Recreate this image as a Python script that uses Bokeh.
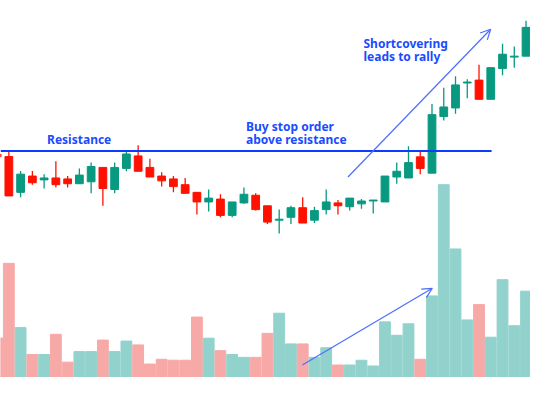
from bokeh.plotting import figure
from bokeh.models import Range1d, ColumnDataSource, Arrow, OpenHead
from bokeh.core.properties import value
from bokeh.embed import file_html
from bokeh.resources import INLINE

# ---- data ----
opens  = [57.0, 56.73, 53.0, 54.7, 54.3, 54.5, 54.4, 53.9, 54.1, 55.6, 53.3, 55.5, 56.8, 55.6, 54.7, 54.4,
          53.8, 53.0, 52.0, 52.3, 50.6, 51.9, 52.7, 51.6, 50.1, 50.4, 51.4, 50.1, 51.2, 51.9, 51.5, 51.8,
          52.1, 52.0, 54.6, 54.5, 56.7, 55.0, 60.9, 61.8, 64.4, 64.7, 62.7, 65.9, 67.1, 67.2]
highs  = [57.0, 57.27, 55.23, 55.23, 54.9, 56.23, 54.7, 55.5, 56.1, 55.6, 56.1, 57.3, 57.9, 56.5, 55.1, 54.7,
          54.5, 53.0, 53.3, 52.8, 52.0, 53.5, 52.9, 51.6, 51.2, 51.6, 52.5, 51.5, 53.3, 52.2, 52.4, 52.3,
          52.2, 54.7, 56.1, 57.8, 57.4, 62.2, 63.9, 65.1, 64.8, 66.3, 66.0, 68.5, 68.2, 70.9]
lows   = [56.7, 52.63, 52.5, 53.8, 53.4, 53.5, 53.5, 53.9, 52.9, 51.6, 52.9, 55.2, 55.2, 54.6, 53.6, 53.0,
          52.9, 50.7, 51.0, 50.4, 50.4, 51.8, 51.1, 49.7, 48.7, 49.7, 49.8, 49.8, 50.7, 50.7, 51.1, 51.3,
          50.8, 52.0, 53.9, 54.5, 54.9, 55.0, 60.5, 61.2, 62.8, 62.7, 62.7, 65.2, 66.0, 67.2]
closes = [56.7, 52.63, 54.9, 54.0, 54.5, 53.8, 53.9, 54.8, 55.7, 53.4, 55.6, 57.0, 55.2, 54.6, 54.2, 53.6,
          52.9, 52.0, 52.4, 50.6, 52.0, 52.8, 51.2, 49.9, 50.2, 51.4, 49.8, 51.1, 52.0, 51.6, 52.4, 52.1,
          52.2, 54.7, 55.2, 56.1, 55.5, 61.1, 61.9, 64.2, 64.5, 62.7, 66.0, 67.4, 67.2, 70.2]
volumes = [206, 595, 260, 120, 120, 225, 80, 135, 135, 195, 135, 190, 170, 70, 95, 90,
           90, 315, 205, 140, 120, 105, 105, 230, 335, 175, 175, 105, 155, 65, 65, 90,
           60, 290, 220, 280, 95, 425, 1005, 670, 300, 380, 210, 510, 270, 450]

resistance_level = 57.3

labels = ["Resistance", "Buy stop order", "above resistance", "Shortcovering", "leads to rally"]

# ---- styling / layout ----
UP, DOWN = "#089981", "#FF1100"
VUP, VDOWN = "#92D2CC", "#F7A9A7"
BLUE = "#0B3BFF"
TXT = "#1A4BFF"

idx = list(range(len(opens)))
up = [c >= o for o, c in zip(opens, closes)]
src = ColumnDataSource(dict(
    x=idx, o=opens, h=highs, l=lows, c=closes, v=volumes,
    top=[max(o, c) for o, c in zip(opens, closes)],
    bot=[min(o, c) for o, c in zip(opens, closes)],
    col=[UP if u else DOWN for u in up],
    vcol=[VUP if u else VDOWN for u in up],
))

p = figure(width=530, height=377, output_backend="svg", toolbar_location=None,
           x_range=Range1d(0.289, 45.38), y_range=Range1d(33.7, 73.0),
           min_border=0, outline_line_color=None)
p.extra_y_ranges = {"vol": Range1d(0, 1965)}
p.axis.visible = False
p.grid.visible = False
p.background_fill_color = "white"
p.border_fill_color = "white"

p.vbar(x="x", top="v", bottom=0, width=0.92, color="vcol", source=src, y_range_name="vol")
p.segment(x0="x", y0="h", x1="x", y1="l", color="col", line_width=1.3, source=src)
p.vbar(x="x", top="top", bottom="bot", width=0.66, fill_color="col", line_color="col",
       line_width=1, source=src)

# resistance line
p.line(x=[0.289, 42.07], y=[resistance_level, resistance_level], line_color=BLUE, line_width=2)

# arrows
p.add_layout(Arrow(x_start=29.85, y_start=54.6, x_end=41.99, y_end=70.0,
                   line_color="#4C6EFF", line_width=1.2,
                   end=OpenHead(size=10, line_color="#4C6EFF", line_width=1.2)))
p.add_layout(Arrow(x_start=25.97, y_start=65, x_end=37.03, y_end=465, y_range_name="vol",
                   line_color="#4C6EFF", line_width=1.2,
                   end=OpenHead(size=10, line_color="#4C6EFF", line_width=1.2)))

# annotations
lx = [4.25, 21.18, 21.18, 31.17, 31.17]
ly = [58.5, 59.9, 58.5, 68.5, 67.2]
p.text(x=lx, y=ly, text=labels, text_font=value("Noto Sans"), text_font_size="12px",
       text_font_style="bold", text_color=TXT, text_baseline="alphabetic", text_align="left")

open("out.html", "w").write(file_html(p, INLINE))
